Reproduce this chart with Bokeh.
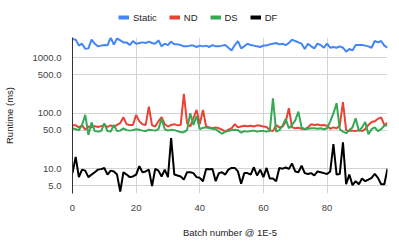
from bokeh.plotting import figure
from bokeh.layouts import column
from bokeh.models import Range1d, FixedTicker, PrintfTickFormatter, Legend, LegendItem
from bokeh.embed import file_html
from bokeh.resources import INLINE

batch = list(range(100))

static = [2200, 2140, 1670, 1810, 1470, 1490, 2140, 1810, 1620, 1670,
          1710, 1690, 2320, 1740, 2260, 2080, 1910, 1910, 1710, 2020,
          1810, 1860, 1910, 1860, 1970, 1860, 1810, 2080, 1620, 1810,
          1710, 1970, 1760, 1760, 1710, 1620, 1620, 1670, 1670, 1580,
          1670, 1620, 1670, 1580, 1710, 1620, 1620, 1670, 1710, 1530,
          1370, 1710, 2020, 1490, 1620, 1810, 1710, 1670, 1620, 1580,
          1670, 1670, 1760, 1810, 1860, 1760, 1810, 1710, 1860, 2140,
          2020, 1910, 1810, 1450, 1810, 1620, 1490, 1810, 1710, 1530,
          1810, 1530, 1580, 1530, 1620, 1530, 1300, 1450, 1370, 1710,
          1710, 1710, 1670, 1620, 1530, 2020, 1910, 2020, 1670, 1530]

nd = [61, 61, 56, 61, 51, 58, 56, 59, 57, 59,
      62, 57, 61, 57, 62, 67, 85, 64, 62, 62,
      94, 72, 64, 62, 133, 61, 58, 72, 86, 64,
      58, 62, 64, 61, 62, 225, 67, 58, 82, 116,
      64, 116, 58, 56, 54, 56, 54, 51, 47, 51,
      54, 64, 56, 58, 60, 59, 60, 58, 61, 60,
      58, 57, 50, 48, 62, 56, 58, 70, 124, 56,
      54, 55, 53, 52, 56, 64, 62, 63, 61, 62,
      60, 53, 56, 54, 60, 160, 50, 48, 49, 48,
      50, 48, 52, 62, 70, 72, 80, 85, 62, 68]

ds = [54, 52, 50, 62, 94, 41, 69, 48, 47, 48,
      66, 48, 47, 62, 48, 49, 54, 50, 49, 50,
      52, 51, 49, 48, 51, 50, 49, 52, 80, 52,
      49, 51, 50, 48, 46, 46, 50, 101, 62, 90,
      52, 55, 56, 54, 53, 52, 47, 43, 47, 48,
      50, 51, 50, 45, 48, 47, 48, 49, 47, 48,
      48, 47, 48, 188, 47, 50, 60, 80, 54, 62,
      75, 108, 56, 52, 53, 54, 54, 53, 54, 52,
      54, 72, 100, 153, 52, 47, 44, 50, 56, 82,
      48, 56, 70, 42, 52, 56, 48, 52, 60, 62]

df = [8.4, 16.5, 7.1, 9.7, 9.3, 7.1, 7.9, 8.7, 9.7, 9.9,
      10.4, 7.9, 9.3, 9.0, 7.9, 3.9, 8.7, 7.9, 7.1, 7.3,
      7.9, 11.2, 8.7, 9.0, 9.7, 4.9, 10.0, 9.3, 7.3, 9.7,
      7.1, 36.0, 7.9, 7.6, 7.3, 6.4, 8.7, 8.7, 8.4, 7.1,
      6.9, 6.0, 10.0, 9.9, 10.0, 6.0, 8.4, 8.7, 7.9, 9.7,
      10.4, 10.4, 9.0, 5.4, 8.4, 8.4, 7.9, 10.7, 7.6, 9.7,
      7.1, 10.4, 6.7, 6.7, 6.0, 10.4, 10.1, 10.6, 10.0, 12.5,
      9.0, 8.7, 11.4, 8.4, 8.1, 8.4, 7.6, 9.0, 8.7, 8.4,
      8.1, 9.0, 28.0, 7.9, 8.1, 30.0, 5.3, 7.9, 5.1, 6.0,
      5.3, 6.7, 6.0, 6.4, 6.9, 8.1, 6.9, 5.3, 5.3, 10.1]

series_names = ["Static", "ND", "DS", "DF"]
series_colors = ["#4285F4", "#EA4335", "#34A853", "#000000"]
x_ticks = [0, 20, 40, 60, 80]
y_ticks = [5, 10, 50, 100, 500, 1000]
all_series = [static, nd, ds, df]

FONT = "Liberation Sans"

# ---- main chart ----
p = figure(width=399, height=220, output_backend="svg", toolbar_location=None,
           y_axis_type="log",
           x_range=Range1d(0, 99), y_range=Range1d(3.6, 2340),
           min_border_left=72, min_border_right=12,
           min_border_top=11, min_border_bottom=53)
p.outline_line_color = None
p.background_fill_color = "white"

for ys, c in zip(all_series, series_colors):
    p.line(batch, ys, line_color=c, line_width=2)

p.xaxis.ticker = FixedTicker(ticks=x_ticks)
p.yaxis.ticker = FixedTicker(ticks=y_ticks)
p.yaxis.formatter = PrintfTickFormatter(format="%.1f")
for ax in (p.xaxis[0], p.yaxis[0]):
    ax.major_tick_line_color = None
    ax.minor_tick_line_color = None
    ax.major_label_text_font = FONT
    ax.major_label_text_font_size = "9.5px"
    ax.major_label_text_color = "#444444"
    ax.axis_label_text_font = FONT
    ax.axis_label_text_font_size = "9.5px"
    ax.axis_label_text_font_style = "normal"
    ax.axis_label_text_color = "#222222"
    ax.major_label_standoff = 5

p.xaxis.axis_line_color = None
p.yaxis.axis_line_color = "#333333"
p.yaxis.axis_line_width = 1
p.xaxis.axis_label = "Batch number @ 1E-5"
p.yaxis.axis_label = "Runtime (ms)"
p.xaxis.axis_label_standoff = 13
p.yaxis.axis_label_standoff = 14

p.xgrid.grid_line_color = "#d4d4d4"
p.ygrid.grid_line_color = "#d4d4d4"

# ---- legend strip above the chart ----
# swatch renderers carry the real series but their lines fall outside this strip's view
lg = figure(width=399, height=26, output_backend="svg", toolbar_location=None,
            x_range=Range1d(0, 99), y_range=Range1d(1e6, 1e6 + 1),
            x_axis_location=None, y_axis_location=None,
            min_border_left=72, min_border_right=12,
            min_border_top=0, min_border_bottom=0)
lg.grid.visible = False
lg.outline_line_color = None
lg.background_fill_color = "white"

swatches = [lg.line(batch, ys, line_color=c, line_width=4)
            for ys, c in zip(all_series, series_colors)]
legend = Legend(items=[LegendItem(label=n, renderers=[r]) for n, r in zip(series_names, swatches)],
                orientation="horizontal", location=(46, 3),
                glyph_width=11, glyph_height=12, label_standoff=4, spacing=12,
                padding=0, margin=0, label_width=0, label_height=12,
                label_text_font=FONT, label_text_font_size="9.5px",
                label_text_color="#222222",
                background_fill_alpha=0, border_line_color=None)
lg.add_layout(legend, "center")

layout = column(lg, p, spacing=0)
open("out.html", "w").write(file_html(layout, INLINE))
